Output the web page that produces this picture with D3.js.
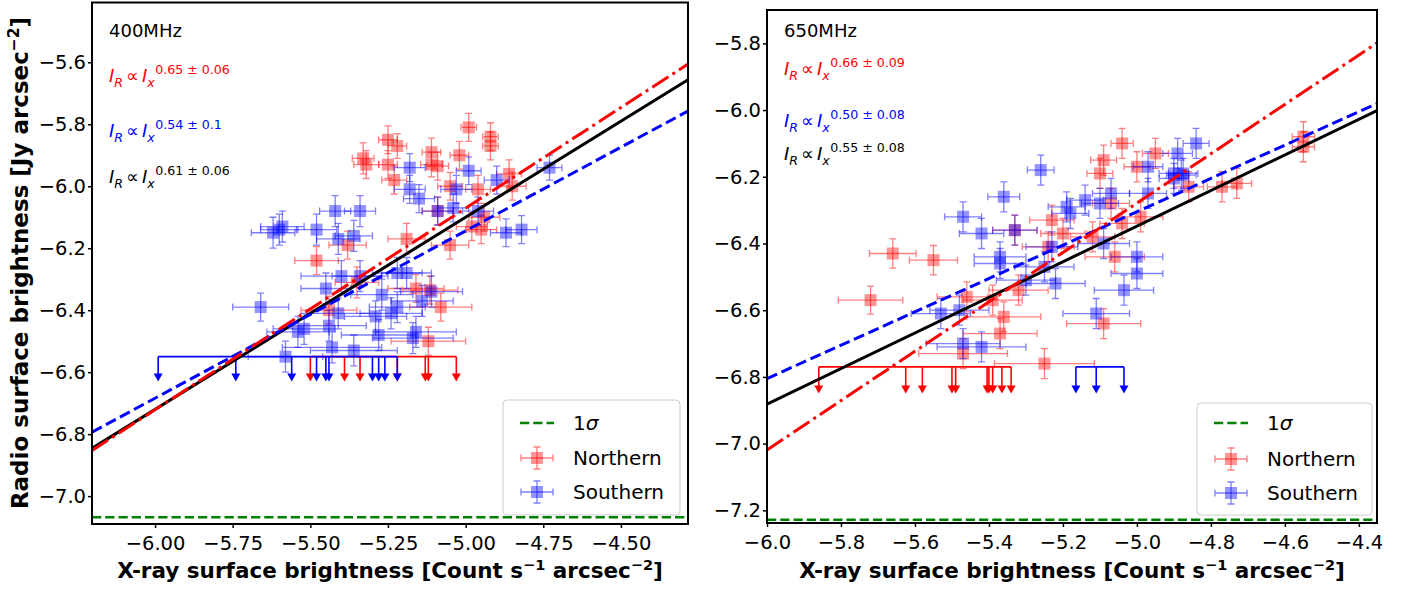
<!DOCTYPE html>
<html>
<head>
<meta charset="utf-8">
<script src="https://cdnjs.cloudflare.com/ajax/libs/d3/7.8.5/d3.min.js"></script>
<style>
body { margin: 0; background: #fff; }
svg { display: block; }
text { font-family: "DejaVu Sans", sans-serif; }
</style>
</head>
<body>
<script>

// ---------- 400 MHz ----------
var north400X = [-4.99, -5.25, -5.22, -4.92, -4.92, -5.33, -5.32, -5.25, -5.23, -5.11, -5.11, -5.09, -5.02, -5.05, -4.86, -4.85, -4.96, -5.09, -5.19, -5.05, -4.98, -4.95, -4.94, -5.38, -5.48, -5.35, -5.16, -5.115, -5.08, -5.44, -5.12];
var north400Y = [-5.81, -5.85, -5.87, -5.84, -5.87, -5.91, -5.93, -5.93, -5.98, -5.89, -5.93, -5.935, -5.90, -6.00, -5.96, -6.00, -6.01, -6.08, -6.17, -6.19, -6.13, -6.14, -6.10, -6.19, -6.24, -6.31, -6.33, -6.335, -6.39, -6.40, -6.50];
var north400Xerr = [0.025, 0.03, 0.03, 0.025, 0.025, 0.035, 0.04, 0.03, 0.04, 0.03, 0.035, 0.035, 0.03, 0.04, 0.04, 0.045, 0.04, 0.05, 0.06, 0.06, 0.05, 0.05, 0.05, 0.06, 0.07, 0.07, 0.09, 0.09, 0.1, 0.09, 0.12];
var north400Yerr = [0.045, 0.045, 0.04, 0.045, 0.045, 0.05, 0.045, 0.045, 0.045, 0.045, 0.04, 0.045, 0.045, 0.045, 0.045, 0.045, 0.045, 0.045, 0.05, 0.045, 0.045, 0.045, 0.045, 0.045, 0.045, 0.05, 0.045, 0.045, 0.045, 0.045, 0.045];

var south400X = [-5.62, -5.59, -5.60, -5.48, -5.42, -5.34, -5.41, -5.36, -5.18, -5.18, -5.15, -5.03, -4.99, -4.90, -5.09, -5.04, -4.96, -4.87, -4.82, -4.73, -5.40, -5.34, -5.45, -5.27, -5.22, -5.19, -5.11, -5.14, -5.66, -5.41, -5.52, -5.54, -5.44, -5.29, -5.24, -5.22, -5.28, -5.16, -5.17, -5.43, -5.36, -5.58];
var south400Y = [-6.15, -6.13, -6.14, -6.14, -6.08, -6.08, -6.17, -6.16, -5.94, -6.01, -6.04, -6.01, -5.95, -5.98, -6.08, -6.07, -6.08, -6.15, -6.14, -5.94, -6.29, -6.29, -6.33, -6.35, -6.28, -6.28, -6.34, -6.37, -6.39, -6.41, -6.46, -6.47, -6.45, -6.42, -6.41, -6.39, -6.48, -6.47, -6.49, -6.52, -6.53, -6.55];
var south400Xerr = [0.07, 0.07, 0.06, 0.065, 0.05, 0.05, 0.07, 0.06, 0.05, 0.05, 0.05, 0.05, 0.04, 0.04, 0.05, 0.05, 0.05, 0.05, 0.05, 0.04, 0.13, 0.09, 0.08, 0.1, 0.08, 0.08, 0.1, 0.1, 0.09, 0.1, 0.1, 0.1, 0.12, 0.1, 0.1, 0.09, 0.12, 0.13, 0.13, 0.16, 0.14, 0.12];
var south400Yerr = [0.05, 0.05, 0.05, 0.05, 0.05, 0.05, 0.05, 0.05, 0.045, 0.045, 0.045, 0.045, 0.045, 0.045, 0.045, 0.045, 0.045, 0.045, 0.045, 0.04, 0.05, 0.05, 0.05, 0.05, 0.05, 0.05, 0.05, 0.05, 0.045, 0.05, 0.05, 0.05, 0.05, 0.05, 0.05, 0.05, 0.05, 0.05, 0.05, 0.05, 0.05, 0.05];

// upper limits (x values), drawn at one level
var north400Lim = [-5.50, -5.39, -5.34, -5.22, -5.13, -5.12, -5.03];
var south400Lim = [-5.99, -5.74, -5.56, -5.48, -5.45, -5.44, -5.30, -5.28, -5.26, -5.22];
var lim400Level = -6.55;

// fits y = a*x + b : [north, south, all]
var fitA400 = [0.65, 0.54, 0.62];
var fitB400 = [-2.821, -3.444, -3.0];
var expLabels400 = ["0.65 \u00b1 0.06", "0.54 \u00b1 0.1", "0.61 \u00b1 0.06"];
var sigma400 = -7.068;

var xTicks400 = [-6.00, -5.75, -5.50, -5.25, -5.00, -4.75, -4.50];
var yTicks400 = [-7.0, -6.8, -6.6, -6.4, -6.2, -6.0, -5.8, -5.6];

// ---------- 650 MHz ----------
var north650X = [-5.72, -5.66, -5.55, -5.46, -5.39, -5.32, -5.36, -5.37, -5.47, -5.25, -5.04, -4.95, -5.09, -5.10, -5.00, -4.86, -4.77, -4.73, -4.55, -4.55, -5.33, -5.07, -5.23, -5.20, -5.04, -4.99, -5.12, -5.24, -5.06, -5.09];
var north650Y = [-6.57, -6.43, -6.45, -6.56, -6.57, -6.54, -6.62, -6.67, -6.73, -6.76, -6.10, -6.13, -6.15, -6.19, -6.17, -6.23, -6.23, -6.22, -6.08, -6.11, -6.36, -6.28, -6.33, -6.37, -6.34, -6.32, -6.38, -6.41, -6.44, -6.64];
var north650Xerr = [0.087, 0.063, 0.065, 0.08, 0.08, 0.08, 0.1, 0.1, 0.12, 0.135, 0.03, 0.035, 0.035, 0.035, 0.035, 0.04, 0.04, 0.04, 0.03, 0.03, 0.06, 0.05, 0.06, 0.06, 0.06, 0.06, 0.06, 0.07, 0.08, 0.1];
var north650Yerr = [0.042, 0.044, 0.044, 0.045, 0.045, 0.045, 0.045, 0.045, 0.045, 0.045, 0.045, 0.045, 0.045, 0.045, 0.045, 0.045, 0.045, 0.045, 0.045, 0.045, 0.045, 0.045, 0.045, 0.045, 0.045, 0.045, 0.045, 0.045, 0.045, 0.045];

var south650X = [-5.42, -5.33, -5.37, -5.37, -5.30, -5.53, -5.48, -5.47, -5.42, -4.84, -4.97, -4.89, -4.90, -4.88, -4.875, -4.90, -5.26, -5.36, -5.47, -5.14, -5.19, -5.18, -5.10, -5.07, -4.97, -5.23, -5.09, -5.00, -5.00, -5.035, -5.11, -5.25, -5.22];
var south650Y = [-6.37, -6.36, -6.44, -6.46, -6.51, -6.61, -6.60, -6.70, -6.71, -6.10, -6.17, -6.13, -6.19, -6.195, -6.19, -6.205, -6.18, -6.26, -6.32, -6.27, -6.29, -6.31, -6.28, -6.25, -6.25, -6.41, -6.40, -6.44, -6.49, -6.54, -6.61, -6.47, -6.52];
var south650Xerr = [0.06, 0.06, 0.07, 0.07, 0.08, 0.08, 0.08, 0.1, 0.12, 0.035, 0.04, 0.04, 0.04, 0.04, 0.04, 0.04, 0.036, 0.043, 0.05, 0.05, 0.05, 0.05, 0.05, 0.05, 0.05, 0.07, 0.07, 0.07, 0.07, 0.08, 0.09, 0.08, 0.08];
var south650Yerr = [0.045, 0.045, 0.045, 0.045, 0.045, 0.045, 0.045, 0.045, 0.045, 0.045, 0.045, 0.045, 0.045, 0.045, 0.045, 0.045, 0.045, 0.045, 0.045, 0.045, 0.045, 0.045, 0.045, 0.045, 0.045, 0.045, 0.045, 0.045, 0.045, 0.045, 0.045, 0.045, 0.045];

var north650Lim = [-5.86, -5.625, -5.58, -5.50, -5.49, -5.405, -5.40, -5.39, -5.365, -5.34];
var south650Lim = [-5.165, -5.11, -5.035];
var lim650Level = -6.77;

var fitA650 = [0.74, 0.50, 0.534];
var fitB650 = [-2.579, -3.805, -3.678];
var expLabels650 = ["0.66 \u00b1 0.09", "0.50 \u00b1 0.08", "0.55 \u00b1 0.08"];
var sigma650 = -7.228;

var xTicks650 = [-6.0, -5.8, -5.6, -5.4, -5.2, -5.0, -4.8, -4.6, -4.4];
var yTicks650 = [-7.2, -7.0, -6.8, -6.6, -6.4, -6.2, -6.0, -5.8];

var legendLabels = ["1\u03c3", "Northern", "Southern"];

function zipPoints(xs, ys, exs, eys) {
	return xs.map(function(d, i) { return {x: d, y: ys[i], ex: exs[i], ey: eys[i]}; });
}

var panels = [
	{ id: "a", title: "400MHz", box: [92, 2.5, 688, 524],
	  xDomain: [-6.203, -4.284], yDomain: [-7.09, -5.407],
	  xTicks: xTicks400, yTicks: yTicks400, xFmt: ".2f",
	  north: zipPoints(north400X, north400Y, north400Xerr, north400Yerr),
	  south: zipPoints(south400X, south400Y, south400Xerr, south400Yerr),
	  limN: north400Lim, limS: south400Lim, limLevel: lim400Level,
	  fitA: fitA400, fitB: fitB400, exps: expLabels400, sigma: sigma400,
	  textY: [37, 82, 137, 183], legend: [503, 400, 680, 515], rows: [423, 458, 492] },
	{ id: "b", title: "650MHz", box: [767, 10, 1377, 523],
	  xDomain: [-6.0, -4.351], yDomain: [-7.238, -5.70],
	  xTicks: xTicks650, yTicks: yTicks650, xFmt: ".1f",
	  north: zipPoints(north650X, north650Y, north650Xerr, north650Yerr),
	  south: zipPoints(south650X, south650Y, south650Xerr, south650Yerr),
	  limN: north650Lim, limS: south650Lim, limLevel: lim650Level,
	  fitA: fitA650, fitB: fitB650, exps: expLabels650, sigma: sigma650,
	  textY: [37, 75, 127, 160], legend: [1197, 403, 1372, 515], rows: [423, 459, 493] }
];

var fitColors = ["red", "blue", "black"];
var fitDash = ["19.2,4.8,3,4.8", "11.1,4.8", null];

var svg = d3.select("body")
	.append("svg")
	.attr("width", 1411)
	.attr("height", 591);

panels.forEach(drawPanel);

// axis labels
var xl = svg.selectAll(".xlabel")
	.data(panels)
	.enter()
	.append("text")
	.attr("class", "xlabel")
	.attr("x", function(p) { return (p.box[0] + p.box[2]) / 2; })
	.attr("y", 578)
	.attr("text-anchor", "middle")
	.style("font-size", "21.5px")
	.style("font-weight", "bold");
xl.append("tspan").text("X-ray surface brightness [Count s");
xl.append("tspan").attr("dy", -8).style("font-size", "14.5px").text("\u22121");
xl.append("tspan").attr("dy", 8).text(" arcsec");
xl.append("tspan").attr("dy", -8).style("font-size", "14.5px").text("\u22122");
xl.append("tspan").attr("dy", 8).text("]");

var yl = svg.append("text")
	.attr("transform", "translate(28,263) rotate(-90)")
	.attr("text-anchor", "middle")
	.style("font-size", "23px")
	.style("font-weight", "bold");
yl.append("tspan").text("Radio surface brightness [Jy arcsec");
yl.append("tspan").attr("dy", -9).style("font-size", "15.5px").text("\u22122");
yl.append("tspan").attr("dy", 9).text("]");


function drawPanel(p) {
	var x = d3.scaleLinear().domain(p.xDomain).range([p.box[0], p.box[2]]);
	var y = d3.scaleLinear().domain(p.yDomain).range([p.box[3], p.box[1]]);

	svg.append("clipPath").attr("id", "clip" + p.id)
		.append("rect")
		.attr("x", p.box[0]).attr("y", p.box[1])
		.attr("width", p.box[2] - p.box[0]).attr("height", p.box[3] - p.box[1]);

	var g = svg.append("g").attr("clip-path", "url(#clip" + p.id + ")");

	// 1 sigma level
	g.append("line")
		.attr("x1", x(p.xDomain[0])).attr("x2", x(p.xDomain[1]))
		.attr("y1", y(p.sigma)).attr("y2", y(p.sigma))
		.attr("stroke", "green").attr("stroke-width", 2.5)
		.attr("stroke-dasharray", "9.25,4");

	errorPoints(g, x, y, p.north, "red");
	errorPoints(g, x, y, p.south, "blue");

	upperLimits(g, x, y, p.limN, p.limLevel, "red");
	upperLimits(g, x, y, p.limS, p.limLevel, "blue");

	// fit lines, drawn black first
	[2, 1, 0].forEach(function(k) {
		var line = g.append("line")
			.attr("x1", x(p.xDomain[0])).attr("y1", y(p.fitA[k] * p.xDomain[0] + p.fitB[k]))
			.attr("x2", x(p.xDomain[1])).attr("y2", y(p.fitA[k] * p.xDomain[1] + p.fitB[k]))
			.attr("stroke", fitColors[k]).attr("stroke-width", 3);
		if (fitDash[k]) line.attr("stroke-dasharray", fitDash[k]);
	});

	// axes
	var xAxis = d3.axisBottom(x).tickValues(p.xTicks).tickFormat(d3.format(p.xFmt))
		.tickSize(4).tickPadding(8).tickSizeOuter(0);
	var yAxis = d3.axisLeft(y).tickValues(p.yTicks).tickFormat(d3.format(".1f"))
		.tickSize(4).tickPadding(2).tickSizeOuter(0);

	var gx = svg.append("g").attr("transform", "translate(0," + p.box[3] + ")").call(xAxis);
	var gy = svg.append("g").attr("transform", "translate(" + p.box[0] + ",0)").call(yAxis);
	[gx, gy].forEach(function(a) {
		a.select(".domain").remove();
		a.attr("font-family", null).attr("font-size", null);
		a.selectAll("line").attr("stroke", "black").attr("stroke-width", 1.5);
		a.selectAll("text").attr("fill", "black").style("font-size", "19.5px");
	});

	svg.append("rect")
		.attr("x", p.box[0]).attr("y", p.box[1])
		.attr("width", p.box[2] - p.box[0]).attr("height", p.box[3] - p.box[1])
		.attr("fill", "none").attr("stroke", "black").attr("stroke-width", 2);

	// annotations
	var tx = p.box[0] + 17;
	svg.append("text").attr("x", tx).attr("y", p.textY[0])
		.style("font-size", "18px").text(p.title);
	p.exps.forEach(function(e, k) {
		powerLaw(tx, p.textY[k + 1], e, fitColors[k]);
	});

	drawLegend(p.legend, p.rows);
}

function errorPoints(g, x, y, pts, color) {
	var c = 3.5;
	var pt = g.append("g").selectAll("g")
		.data(pts)
		.enter()
		.append("g");

	pt.append("path")
		.attr("d", function(d) {
			var cy = y(d.y);
			var x0 = x(d.x - d.ex), x1 = x(d.x + d.ex);
			return "M" + x0 + "," + cy + "H" + x1
				+ "M" + x0 + "," + (cy - c) + "V" + (cy + c)
				+ "M" + x1 + "," + (cy - c) + "V" + (cy + c);
		})
		.attr("fill", "none").attr("stroke", color)
		.attr("stroke-opacity", 0.5).attr("stroke-width", 1.3);

	pt.append("path")
		.attr("d", function(d) {
			var cx = x(d.x);
			var y0 = y(d.y - d.ey), y1 = y(d.y + d.ey);
			return "M" + cx + "," + y0 + "V" + y1
				+ "M" + (cx - c) + "," + y0 + "H" + (cx + c)
				+ "M" + (cx - c) + "," + y1 + "H" + (cx + c);
		})
		.attr("fill", "none").attr("stroke", color)
		.attr("stroke-opacity", 0.5).attr("stroke-width", 1.3);

	pt.append("rect")
		.attr("x", function(d) { return x(d.x) - 6; })
		.attr("y", function(d) { return y(d.y) - 6; })
		.attr("width", 12).attr("height", 12)
		.attr("fill", color).attr("fill-opacity", 0.42);
}

function upperLimits(g, x, y, xs, level, color) {
	var ext = d3.extent(xs);
	var arrowLen = 0.08;
	g.append("line")
		.attr("x1", x(ext[0])).attr("x2", x(ext[1]))
		.attr("y1", y(level)).attr("y2", y(level))
		.attr("stroke", color).attr("stroke-width", 1.6);

	var a = g.append("g").selectAll("g")
		.data(xs)
		.enter()
		.append("g");
	a.append("line")
		.attr("x1", function(d) { return x(d); }).attr("x2", function(d) { return x(d); })
		.attr("y1", y(level)).attr("y2", y(level - arrowLen) - 6)
		.attr("stroke", color).attr("stroke-width", 1.6);
	a.append("path")
		.attr("d", function(d) {
			var px = x(d), tip = y(level - arrowLen);
			return "M" + (px - 4.5) + "," + (tip - 8) + "L" + (px + 4.5) + "," + (tip - 8) + "L" + px + "," + tip + "Z";
		})
		.attr("fill", color);
}

function powerLaw(x0, y0, exp, color) {
	var fs = 18, small = 12.6;
	var t = svg.append("text").attr("x", x0).attr("y", y0)
		.attr("fill", color).style("font-size", fs + "px");
	t.append("tspan").style("font-style", "italic").text("I");
	t.append("tspan").style("font-style", "italic").style("font-size", small + "px").attr("dy", 4.5).text("R");
	t.append("tspan").attr("dy", -4.5).attr("dx", 3).text("\u221d");
	t.append("tspan").attr("dx", 3).style("font-style", "italic").text("I");
	t.append("tspan").style("font-style", "italic").style("font-size", small + "px").attr("dy", 4.5).text("x");
	t.append("tspan").style("font-size", small + "px").attr("dx", 0.5).attr("dy", -13).text(exp);
}

function drawLegend(b, rows) {
	var lg = svg.append("g");
	lg.append("rect")
		.attr("x", b[0]).attr("y", b[1])
		.attr("width", b[2] - b[0]).attr("height", b[3] - b[1])
		.attr("rx", 4).attr("ry", 4)
		.attr("fill", "white").attr("fill-opacity", 0.85)
		.attr("stroke", "#cccccc").attr("stroke-width", 1);

	var cx = b[0] + 34, c = 3.5;
	lg.append("line")
		.attr("x1", cx - 17).attr("x2", cx + 17)
		.attr("y1", rows[0]).attr("y2", rows[0])
		.attr("stroke", "green").attr("stroke-width", 2.5).attr("stroke-dasharray", "9.25,4");

	[["red", rows[1]], ["blue", rows[2]]].forEach(function(r) {
		var cy = r[1];
		lg.append("path")
			.attr("d", "M" + (cx - 16) + "," + cy + "H" + (cx + 16)
				+ "M" + (cx - 16) + "," + (cy - c) + "V" + (cy + c)
				+ "M" + (cx + 16) + "," + (cy - c) + "V" + (cy + c))
			.attr("fill", "none").attr("stroke", r[0]).attr("stroke-opacity", 0.5).attr("stroke-width", 1.3);
		lg.append("path")
			.attr("d", "M" + cx + "," + (cy - 11) + "V" + (cy + 11)
				+ "M" + (cx - c) + "," + (cy - 11) + "H" + (cx + c)
				+ "M" + (cx - c) + "," + (cy + 11) + "H" + (cx + c))
			.attr("fill", "none").attr("stroke", r[0]).attr("stroke-opacity", 0.5).attr("stroke-width", 1.3);
		lg.append("rect")
			.attr("x", cx - 6).attr("y", cy - 6).attr("width", 12).attr("height", 12)
			.attr("fill", r[0]).attr("fill-opacity", 0.42);
	});

	var sig = lg.append("text").attr("x", b[0] + 70).attr("y", rows[0] + 7).style("font-size", "20px");
	sig.append("tspan").text(legendLabels[0].charAt(0));
	sig.append("tspan").style("font-style", "italic").text(legendLabels[0].charAt(1));
	lg.append("text").attr("x", b[0] + 70).attr("y", rows[1] + 7).style("font-size", "20px").text(legendLabels[1]);
	lg.append("text").attr("x", b[0] + 70).attr("y", rows[2] + 7).style("font-size", "20px").text(legendLabels[2]);
}

</script>
</body>
</html>
